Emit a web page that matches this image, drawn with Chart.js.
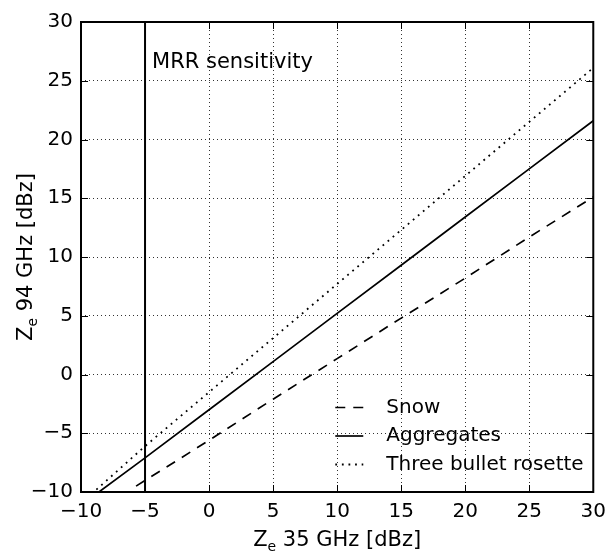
<!DOCTYPE html>
<html>
<head>
<meta charset="utf-8">
<script src="https://cdn.jsdelivr.net/npm/chart.js@4/dist/chart.umd.min.js"></script>
<style>
  html, body { margin: 0; padding: 0; background: #fff; }
  #wrap { width: 614px; height: 552px; }
</style>
</head>
<body>
<div id="wrap"><canvas id="zeChart" width="614" height="552"></canvas></div>
<script>
// Ze 35 GHz vs Ze 94 GHz
const snowX = [-5.7, 0, 5, 10, 15, 20, 25, 30];
const snowY = [-9.5, -5.6, -2.1, 1.35, 4.8, 8.2, 11.7, 15.1];

const aggX = [-8.6, -5, 0, 5, 10, 15, 20, 25, 30];
const aggY = [-10, -7.1, -3.0, 1.1, 5.2, 9.3, 13.4, 17.5, 21.6];

const rosetteX = [-8.8, -5, 0, 5, 10, 15, 20, 25, 30];
const rosetteY = [-9.8, -6.1, -1.5, 3.1, 7.7, 12.3, 16.9, 21.5, 26.1];

const mrrX = [-5, -5];
const mrrY = [-10, 30];

const xTicks = [-10, -5, 0, 5, 10, 15, 20, 25, 30];
const yTicks = [-10, -5, 0, 5, 10, 15, 20, 25, 30];

const FONT = "'DejaVu Sans', sans-serif";

function toPoints(xs, ys) {
    return xs.map(function(x, i) { return { x: x, y: ys[i] }; });
}

function minusSign(v) {
    return String(v).replace('-', '\u2212');
}

// frame, inward ticks, titles, annotation and legend
const decorPlugin = {
    id: 'decor',
    afterDraw: function(chart) {
        const c = chart.ctx;
        const a = chart.chartArea;
        const xs = chart.scales.x;
        const ys = chart.scales.y;
        c.save();

        // inward tick marks on all four sides
        c.strokeStyle = '#000';
        c.lineWidth = 1;
        c.setLineDash([]);
        const tl = 7;
        c.beginPath();
        xTicks.forEach(function(t) {
            const px = Math.round(xs.getPixelForValue(t)) + 0.5;
            c.moveTo(px, a.bottom); c.lineTo(px, a.bottom - tl);
            c.moveTo(px, a.top); c.lineTo(px, a.top + tl);
        });
        yTicks.forEach(function(t) {
            const py = Math.round(ys.getPixelForValue(t)) + 0.5;
            c.moveTo(a.left, py); c.lineTo(a.left + tl, py);
            c.moveTo(a.right, py); c.lineTo(a.right - tl, py);
        });
        c.stroke();

        // frame
        c.lineWidth = 2;
        c.strokeRect(a.left, a.top, a.right - a.left, a.bottom - a.top);

        // annotation
        c.fillStyle = '#000';
        c.font = '21px ' + FONT;
        c.textAlign = 'left';
        c.textBaseline = 'alphabetic';
        c.fillText('MRR sensitivity', xs.getPixelForValue(-5) + 7, a.top + 46);

        // x title with subscript
        const xt1 = 'Z', xt2 = 'e', xt3 = ' 35 GHz [dBz]';
        c.font = '21px ' + FONT;
        const w1 = c.measureText(xt1).width;
        const w3 = c.measureText(xt3).width;
        c.font = '14px ' + FONT;
        const w2 = c.measureText(xt2).width;
        const total = w1 + w2 + w3;
        let x0 = (a.left + a.right) / 2 - total / 2;
        const by = 546;
        c.font = '21px ' + FONT;
        c.fillText(xt1, x0, by);
        c.font = '14px ' + FONT;
        c.fillText(xt2, x0 + w1, by + 5);
        c.font = '21px ' + FONT;
        c.fillText(xt3, x0 + w1 + w2, by);

        // y title with subscript (rotated)
        const yt3 = ' 94 GHz [dBz]';
        c.font = '21px ' + FONT;
        const v3 = c.measureText(yt3).width;
        const vtotal = w1 + w2 + v3;
        c.translate(32, (a.top + a.bottom) / 2);
        c.rotate(-Math.PI / 2);
        let y0 = -vtotal / 2;
        c.fillText(xt1, y0, 0);
        c.font = '14px ' + FONT;
        c.fillText(xt2, y0 + w1, 5);
        c.font = '21px ' + FONT;
        c.fillText(yt3, y0 + w1 + w2, 0);
        c.setTransform(1, 0, 0, 1, 0, 0);

        // legend, lower right inside the axes
        const items = chart.data.datasets.filter(function(d) { return d.inLegend; });
        const lx = a.right - 258;
        let ly = a.bottom - 84.5;
        items.forEach(function(d) {
            c.strokeStyle = '#000';
            c.lineWidth = d.borderWidth;
            c.setLineDash(d.borderDash || []);
            c.beginPath();
            c.moveTo(lx, ly);
            c.lineTo(lx + 28, ly);
            c.stroke();
            c.setLineDash([]);
            c.font = '20px ' + FONT;
            c.textBaseline = 'middle';
            c.fillText(d.label, lx + 51, ly);
            ly += 28.5;
        });

        c.restore();
    }
};

new Chart(document.getElementById('zeChart'), {
    type: 'scatter',
    data: {
        datasets: [
            {
                label: 'Snow',
                data: toPoints(snowX, snowY),
                showLine: true,
                borderColor: '#000',
                borderWidth: 1.7,
                borderDash: [10, 8],
                pointRadius: 0,
                inLegend: true
            },
            {
                label: 'Aggregates',
                data: toPoints(aggX, aggY),
                showLine: true,
                borderColor: '#000',
                borderWidth: 1.7,
                pointRadius: 0,
                inLegend: true
            },
            {
                label: 'Three bullet rosette',
                data: toPoints(rosetteX, rosetteY),
                showLine: true,
                borderColor: '#000',
                borderWidth: 1.8,
                borderDash: [1.8, 4.8],
                pointRadius: 0,
                inLegend: true
            },
            {
                label: 'MRR',
                data: toPoints(mrrX, mrrY),
                showLine: true,
                borderColor: '#000',
                borderWidth: 2,
                pointRadius: 0,
                inLegend: false
            }
        ]
    },
    options: {
        responsive: false,
        animation: false,
        events: [],
        layout: {
            padding: { top: 22, right: 17, left: 0, bottom: 0 }
        },
        plugins: {
            legend: { display: false },
            tooltip: { enabled: false }
        },
        scales: {
            x: {
                type: 'linear',
                min: -10,
                max: 30,
                afterBuildTicks: function(scale) {
                    scale.ticks = xTicks.map(function(v) { return { value: v }; });
                },
                afterFit: function(scale) { scale.height = 60; },
                ticks: {
                    color: '#000',
                    font: { family: FONT, size: 20 },
                    padding: 8,
                    maxRotation: 0,
                    callback: function(v) { return minusSign(v); }
                },
                grid: {
                    color: 'rgba(0,0,0,0.8)',
                    lineWidth: 1,
                    drawTicks: false
                },
                border: { display: false, dash: [1, 3] }
            },
            y: {
                type: 'linear',
                min: -10,
                max: 30,
                afterBuildTicks: function(scale) {
                    scale.ticks = yTicks.map(function(v) { return { value: v }; });
                },
                afterFit: function(scale) { scale.width = 81; },
                ticks: {
                    color: '#000',
                    font: { family: FONT, size: 20 },
                    padding: 8,
                    callback: function(v) { return minusSign(v); }
                },
                grid: {
                    color: 'rgba(0,0,0,0.8)',
                    lineWidth: 1,
                    drawTicks: false
                },
                border: { display: false, dash: [1, 3] }
            }
        }
    },
    plugins: [decorPlugin]
});
</script>
</body>
</html>
